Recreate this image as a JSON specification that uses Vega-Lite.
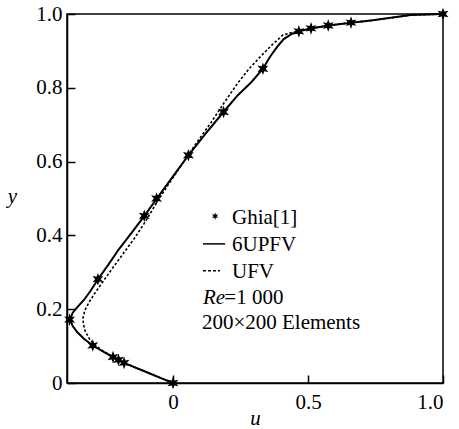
{
  "$schema": "https://vega.github.io/schema/vega-lite/v6.json",
  "width": 376,
  "height": 369,
  "autosize": "none",
  "padding": {"left": 67, "top": 14, "right": 16, "bottom": 46},
  "background": "white",
  "config": {
    "font": "Times New Roman, Liberation Serif, serif",
    "view": {"stroke": "black", "strokeWidth": 1.5},
    "text": {"font": "Times New Roman, Liberation Serif, serif"},
    "axis": {"grid": false, "domainColor": "black", "domainWidth": 1.5, "tickColor": "black", "tickWidth": 1.5, "labelColor": "black", "titleColor": "black", "labelFont": "Times New Roman, Liberation Serif, serif", "titleFont": "Times New Roman, Liberation Serif, serif", "labelFontSize": 21, "titleFontSize": 21, "titleFontWeight": "normal", "titleFontStyle": "italic"}
  },
  "datasets": {
    "ghia": [
      {"u": 1.0, "y": 1.0},
      {"u": 0.65928, "y": 0.9766},
      {"u": 0.57492, "y": 0.9688},
      {"u": 0.51117, "y": 0.9609},
      {"u": 0.46604, "y": 0.9531},
      {"u": 0.33304, "y": 0.8516},
      {"u": 0.18719, "y": 0.7344},
      {"u": 0.05702, "y": 0.6172},
      {"u": -0.0608, "y": 0.5},
      {"u": -0.10648, "y": 0.4531},
      {"u": -0.27805, "y": 0.2813},
      {"u": -0.38289, "y": 0.1719},
      {"u": -0.2973, "y": 0.1016},
      {"u": -0.2222, "y": 0.0703},
      {"u": -0.20196, "y": 0.0625},
      {"u": -0.18109, "y": 0.0547},
      {"u": 0.0, "y": 0.0}
    ],
    "upfv": [
      {"u": 0, "y": 0}, {"u": -0.04, "y": 0.012}, {"u": -0.09, "y": 0.027}, {"u": -0.14, "y": 0.042},
      {"u": -0.181, "y": 0.0547}, {"u": -0.202, "y": 0.0625}, {"u": -0.222, "y": 0.0703}, {"u": -0.26, "y": 0.086},
      {"u": -0.297, "y": 0.1016}, {"u": -0.33, "y": 0.12}, {"u": -0.355, "y": 0.138}, {"u": -0.372, "y": 0.155},
      {"u": -0.38, "y": 0.172}, {"u": -0.372, "y": 0.19}, {"u": -0.355, "y": 0.205}, {"u": -0.33, "y": 0.225},
      {"u": -0.305, "y": 0.25}, {"u": -0.278, "y": 0.2813}, {"u": -0.24, "y": 0.32}, {"u": -0.2, "y": 0.363},
      {"u": -0.15, "y": 0.41}, {"u": -0.106, "y": 0.4531}, {"u": -0.06, "y": 0.5}, {"u": 0, "y": 0.56},
      {"u": 0.057, "y": 0.6172}, {"u": 0.12, "y": 0.675}, {"u": 0.187, "y": 0.7344}, {"u": 0.24, "y": 0.78},
      {"u": 0.29, "y": 0.815}, {"u": 0.333, "y": 0.8516}, {"u": 0.36, "y": 0.885}, {"u": 0.385, "y": 0.91},
      {"u": 0.41, "y": 0.932}, {"u": 0.44, "y": 0.946}, {"u": 0.466, "y": 0.9531}, {"u": 0.511, "y": 0.9609},
      {"u": 0.575, "y": 0.9688}, {"u": 0.66, "y": 0.9766}, {"u": 0.74, "y": 0.983}, {"u": 0.8, "y": 0.989},
      {"u": 0.88, "y": 0.997}, {"u": 1, "y": 1}
    ],
    "ufv": [
      {"u": 0, "y": 0}, {"u": -0.04, "y": 0.012}, {"u": -0.09, "y": 0.027}, {"u": -0.14, "y": 0.042},
      {"u": -0.18, "y": 0.055}, {"u": -0.22, "y": 0.07}, {"u": -0.26, "y": 0.087}, {"u": -0.29, "y": 0.103},
      {"u": -0.31, "y": 0.12}, {"u": -0.325, "y": 0.14}, {"u": -0.332, "y": 0.16}, {"u": -0.333, "y": 0.178},
      {"u": -0.326, "y": 0.198}, {"u": -0.31, "y": 0.22}, {"u": -0.29, "y": 0.243}, {"u": -0.262, "y": 0.272},
      {"u": -0.23, "y": 0.305}, {"u": -0.19, "y": 0.345}, {"u": -0.14, "y": 0.395}, {"u": -0.1, "y": 0.44},
      {"u": -0.06, "y": 0.49}, {"u": -0.02, "y": 0.535}, {"u": 0.02, "y": 0.578}, {"u": 0.06, "y": 0.622},
      {"u": 0.1, "y": 0.664}, {"u": 0.14, "y": 0.705}, {"u": 0.19, "y": 0.76}, {"u": 0.237, "y": 0.81},
      {"u": 0.28, "y": 0.85}, {"u": 0.322, "y": 0.883}, {"u": 0.365, "y": 0.915}, {"u": 0.407, "y": 0.943},
      {"u": 0.44, "y": 0.95}, {"u": 0.47, "y": 0.954}, {"u": 0.511, "y": 0.9609}, {"u": 0.575, "y": 0.9688},
      {"u": 0.66, "y": 0.9766}, {"u": 0.74, "y": 0.983}, {"u": 0.8, "y": 0.989}, {"u": 0.88, "y": 0.997},
      {"u": 1, "y": 1}
    ],
    "one": [{}]
  },
  "layer": [
    {
      "data": {"name": "ufv"},
      "mark": {"type": "line", "color": "black", "strokeWidth": 1.6, "strokeDash": [2.5, 2]},
      "encoding": {
        "x": {"field": "u", "type": "quantitative", "scale": {"domain": [-0.3926, 1], "nice": false, "zero": false},
          "axis": {"values": [0, 0.5, 1], "labelExpr": "datum.value == 0 ? '0' : format(datum.value, '.1f')", "tickSize": -8, "labelPadding": 16, "title": "u", "titleY": 41, "titleBaseline": "alphabetic"}},
        "y": {"field": "y", "type": "quantitative", "scale": {"domain": [0, 1], "nice": false},
          "axis": {"values": [0, 0.2, 0.4, 0.6, 0.8, 1], "labelExpr": "datum.value == 0 ? '0' : format(datum.value, '.1f')", "tickSize": -8, "labelPadding": 13, "title": "y", "titleAngle": 0, "titleX": -55, "titleY": 182, "titleBaseline": "middle", "titleAlign": "center"}},
        "order": {"field": "y", "type": "quantitative"}
      }
    },
    {
      "data": {"name": "upfv"},
      "mark": {"type": "line", "color": "black", "strokeWidth": 2},
      "encoding": {
        "x": {"field": "u", "type": "quantitative"},
        "y": {"field": "y", "type": "quantitative"},
        "order": {"field": "y", "type": "quantitative"}
      }
    },
    {
      "data": {"name": "ghia"},
      "mark": {"type": "point", "filled": true, "color": "black", "opacity": 1, "size": 160,
        "shape": "M0,-1L0.22,-0.38L0.866,-0.5L0.44,0L0.866,0.5L0.22,0.38L0,1L-0.22,0.38L-0.866,0.5L-0.44,0L-0.866,-0.5L-0.22,-0.38Z"},
      "encoding": {
        "x": {"field": "u", "type": "quantitative"},
        "y": {"field": "y", "type": "quantitative"}
      }
    },
    {
      "data": {"name": "one"},
      "mark": {"type": "point", "filled": true, "color": "black", "opacity": 1, "size": 55,
        "shape": "M0,-1L0.22,-0.38L0.866,-0.5L0.44,0L0.866,0.5L0.22,0.38L0,1L-0.22,0.38L-0.866,0.5L-0.44,0L-0.866,-0.5L-0.22,-0.38Z"},
      "encoding": {"x": {"datum": 0.156}, "y": {"datum": 0.452}}
    },
    {
      "data": {"name": "one"},
      "mark": {"type": "rule", "color": "black", "strokeWidth": 1.5},
      "encoding": {"x": {"datum": 0.111}, "x2": {"datum": 0.193}, "y": {"datum": 0.377}}
    },
    {
      "data": {"name": "one"},
      "mark": {"type": "rule", "color": "black", "strokeWidth": 1.5, "strokeDash": [3, 2]},
      "encoding": {"x": {"datum": 0.111}, "x2": {"datum": 0.174}, "y": {"datum": 0.304}}
    },
    {
      "data": {"name": "one"},
      "mark": {"type": "text", "align": "left", "baseline": "middle", "fontSize": 21, "color": "black"},
      "encoding": {"x": {"datum": 0.2185}, "y": {"datum": 0.447}, "text": {"value": "Ghia[1]"}}
    },
    {
      "data": {"name": "one"},
      "mark": {"type": "text", "align": "left", "baseline": "middle", "fontSize": 21, "color": "black"},
      "encoding": {"x": {"datum": 0.2185}, "y": {"datum": 0.374}, "text": {"value": "6UPFV"}}
    },
    {
      "data": {"name": "one"},
      "mark": {"type": "text", "align": "left", "baseline": "middle", "fontSize": 21, "color": "black"},
      "encoding": {"x": {"datum": 0.2185}, "y": {"datum": 0.301}, "text": {"value": "UFV"}}
    },
    {
      "data": {"name": "one"},
      "mark": {"type": "text", "align": "left", "baseline": "middle", "fontSize": 21, "fontStyle": "italic", "color": "black"},
      "encoding": {"x": {"datum": 0.111}, "y": {"datum": 0.23}, "text": {"value": "Re"}}
    },
    {
      "data": {"name": "one"},
      "mark": {"type": "text", "align": "left", "baseline": "middle", "fontSize": 21, "color": "black"},
      "encoding": {"x": {"datum": 0.19}, "y": {"datum": 0.23}, "text": {"value": "=1 000"}}
    },
    {
      "data": {"name": "one"},
      "mark": {"type": "text", "align": "left", "baseline": "middle", "fontSize": 21, "color": "black"},
      "encoding": {"x": {"datum": 0.107}, "y": {"datum": 0.163}, "text": {"value": "200×200 Elements"}}
    }
  ]
}
